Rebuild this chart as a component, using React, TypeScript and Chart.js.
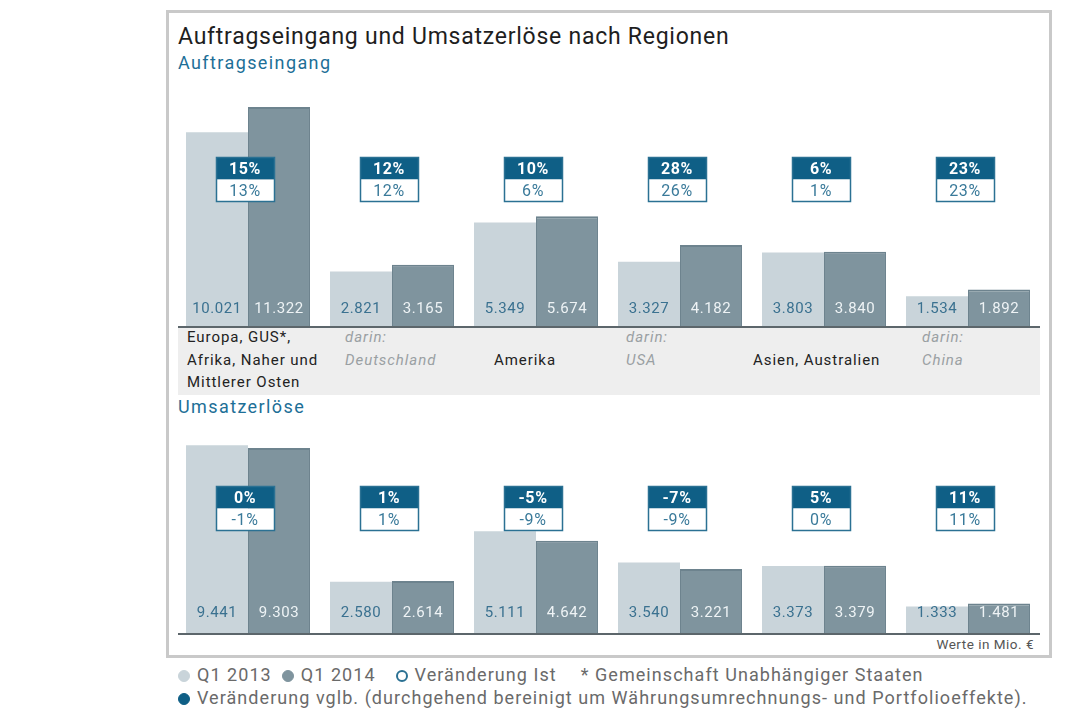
import React, { useEffect, useRef } from "react";
import { Chart, registerables } from "chart.js";

Chart.register(...registerables);

// ---------- data ----------
const categories = [
  "Europa, GUS*, Afrika, Naher und Mittlerer Osten",
  "darin: Deutschland",
  "Amerika",
  "darin: USA",
  "Asien, Australien",
  "darin: China",
];

const seriesNames = ["Q1 2013", "Q1 2014"];

const orders2013 = [10021, 2821, 5349, 3327, 3803, 1534];
const orders2014 = [11322, 3165, 5674, 4182, 3840, 1892];
const ordersVglb = [15, 12, 10, 28, 6, 23];
const ordersIst = [13, 12, 6, 26, 1, 23];

const revenue2013 = [9441, 2580, 5111, 3540, 3373, 1333];
const revenue2014 = [9303, 2614, 4642, 3221, 3379, 1481];
const revenueVglb = [0, 1, -5, -7, 5, 11];
const revenueIst = [-1, 1, -9, -9, 0, 11];

// ---------- style ----------
const LIGHT = "#c9d4da";
const DARK = "#7f949e";
const DARK_EDGE = "#6d838e";
const BOX_DARK = "#0f5f86";
const BOX_EDGE = "#2b7193";
const FONT = "Roboto, 'Liberation Sans', sans-serif";

function fmt(v: number): string {
  return String(v).replace(/\B(?=(\d{3})+(?!\d))/g, ".");
}

const overlay = {
  id: "overlay",
  afterDatasetsDraw(chart: any, _args: any, opts: any) {
    const { ctx, chartArea } = chart;
    ctx.save();
    // baseline
    ctx.strokeStyle = "#5c666b";
    ctx.lineWidth = 2;
    ctx.beginPath();
    ctx.moveTo(chartArea.left + 2, chartArea.bottom + 1);
    ctx.lineTo(chartArea.right, chartArea.bottom + 1);
    ctx.stroke();

    // value labels
    ctx.font = `15px ${FONT}`;
    try { (ctx as any).letterSpacing = "0.6px"; } catch (e) {}
    ctx.textAlign = "center";
    ctx.textBaseline = "middle";
    [0, 1].forEach((di) => {
      const meta = chart.getDatasetMeta(di);
      meta.data.forEach((el: any, j: number) => {
        ctx.fillStyle = di === 0 ? "#3a7190" : "#eef3f5";
        ctx.fillText(
          fmt(chart.data.datasets[di].data[j] as number),
          el.x,
          chartArea.bottom - opts.labelOffset
        );
      });
    });

    // percentage boxes
    const xs = chart.scales.x;
    const w = 58;
    const h = 22;
    (opts.vglb as number[]).forEach((v: number, j: number) => {
      const cx = xs.getPixelForValue(j) - 3;
      const x0 = Math.round(cx - w / 2) + 0.5;
      const y0 = opts.boxTop + 0.5;
      ctx.fillStyle = BOX_DARK;
      ctx.fillRect(x0, y0, w, h);
      ctx.fillStyle = "#ffffff";
      ctx.fillRect(x0, y0 + h, w, h);
      ctx.strokeStyle = BOX_EDGE;
      ctx.lineWidth = 1.5;
      ctx.strokeRect(x0, y0, w, h * 2);
      ctx.font = `bold 16px ${FONT}`;
      ctx.fillStyle = "#ffffff";
      ctx.fillText(`${v}%`, cx, y0 + h / 2 + 1);
      ctx.font = `16px ${FONT}`;
      ctx.fillStyle = "#3a7a9a";
      ctx.fillText(`${opts.ist[j]}%`, cx, y0 + h + h / 2 + 1);
    });
    ctx.restore();
  },
};

interface PanelProps {
  top: number;
  height: number;
  max: number;
  a: number[];
  b: number[];
  vglb: number[];
  ist: number[];
  boxTop: number;
  labelOffset: number;
}

function BarPanel(p: PanelProps) {
  const ref = useRef<HTMLCanvasElement>(null);
  useEffect(() => {
    const chart = new Chart(ref.current!, {
      type: "bar",
      data: {
        labels: categories,
        datasets: [
          {
            label: seriesNames[0],
            data: p.a,
            backgroundColor: LIGHT,
            borderWidth: 0,
            categoryPercentage: 0.861,
            barPercentage: 1,
          },
          {
            label: seriesNames[1],
            data: p.b,
            backgroundColor: DARK,
            borderColor: DARK_EDGE,
            borderWidth: { top: 2, left: 1, right: 1, bottom: 0 },
            borderSkipped: "bottom",
            categoryPercentage: 0.861,
            barPercentage: 1,
          },
        ],
      },
      options: {
        animation: false,
        responsive: false,
        maintainAspectRatio: false,
        layout: { padding: { top: 0, left: 0, right: 0, bottom: 2 } },
        plugins: {
          legend: { display: false },
          tooltip: { enabled: false },
          overlay: {
            vglb: p.vglb,
            ist: p.ist,
            boxTop: p.boxTop,
            labelOffset: p.labelOffset,
          },
        } as any,
        scales: {
          x: { display: false, grid: { display: false } },
          y: { display: false, min: 0, max: p.max, grid: { display: false } },
        },
      },
      plugins: [overlay as any],
    });
    return () => chart.destroy();
  }, []);
  return (
    <canvas
      ref={ref}
      width={864}
      height={p.height}
      style={{ position: "absolute", left: 176, top: p.top, width: 864, height: p.height }}
    />
  );
}

const abs = (s: React.CSSProperties): React.CSSProperties => ({ position: "absolute", whiteSpace: "nowrap", ...s });

function Dot({ color, hollow }: { color: string; hollow?: boolean }) {
  return (
    <span
      style={{
        display: "inline-block",
        width: 12,
        height: 12,
        borderRadius: "50%",
        background: hollow ? "#fff" : color,
        border: hollow ? `2px solid ${color}` : `1px solid ${color}`,
        boxSizing: "border-box",
        marginRight: 7,
        verticalAlign: "-1px",
      }}
    />
  );
}

export default function App() {
  const catText: React.CSSProperties = { fontSize: 15, lineHeight: "22.5px", color: "#222", letterSpacing: "0.95px" };
  const subText: React.CSSProperties = { fontSize: 15, lineHeight: "22.5px", color: "#9aa0a3", fontStyle: "italic", letterSpacing: "0.95px" };
  return (
    <div
      style={{
        position: "fixed",
        left: 0,
        top: 0,
        width: 1080,
        height: 720,
        background: "#fff",
        fontFamily: FONT,
        overflow: "hidden",
      }}
    >
      <div
        style={abs({
          left: 166,
          top: 10,
          width: 886,
          height: 648,
          border: "3px solid #c9c9c9",
          boxSizing: "border-box",
        })}
      />
      <div style={abs({ left: 178, top: 23, fontSize: 23, color: "#1e1e1e", letterSpacing: "0.75px" })}>
        Auftragseingang und Umsatzerlöse nach Regionen
      </div>
      <div style={abs({ left: 178, top: 52, fontSize: 18, color: "#1d6f97", letterSpacing: "1.4px" })}>Auftragseingang</div>

      <div style={abs({ left: 178, top: 328, width: 862, height: 67, background: "#eeeeee" })} />
      <div style={abs({ left: 187, top: 326, ...catText })}>
        Europa, GUS*,
        <br />
        Afrika, Naher und
        <br />
        Mittlerer Osten
      </div>
      <div style={abs({ left: 345, top: 326, ...subText })}>
        darin:
        <br />
        Deutschland
      </div>
      <div style={abs({ left: 494, top: 349, ...catText })}>Amerika</div>
      <div style={abs({ left: 626, top: 326, ...subText })}>
        darin:
        <br />
        USA
      </div>
      <div style={abs({ left: 753, top: 349, ...catText })}>Asien, Australien</div>
      <div style={abs({ left: 922, top: 326, ...subText })}>
        darin:
        <br />
        China
      </div>

      <div style={abs({ left: 178, top: 396, fontSize: 18, color: "#1d6f97", letterSpacing: "1.4px" })}>Umsatzerlöse</div>
      <div style={abs({ right: 1080 - 1034, top: 636, fontSize: 13.5, color: "#555", letterSpacing: "0.5px" })}>
        Werte in Mio. €
      </div>

      <BarPanel
        top={90}
        height={238}
        max={12200}
        a={orders2013}
        b={orders2014}
        vglb={ordersVglb}
        ist={ordersIst}
        boxTop={67}
        labelOffset={17}
      />
      <BarPanel
        top={440}
        height={195}
        max={9700}
        a={revenue2013}
        b={revenue2014}
        vglb={revenueVglb}
        ist={revenueIst}
        boxTop={46}
        labelOffset={20}
      />

      <div style={abs({ left: 178, top: 663, fontSize: 18, color: "#6a6a6a", lineHeight: "23px", letterSpacing: "1.05px" })}>
        <Dot color={LIGHT} />
        {seriesNames[0]}
        <span style={{ display: "inline-block", width: 10 }} />
        <Dot color={DARK} />
        {seriesNames[1]}
        <span style={{ display: "inline-block", width: 20 }} />
        <Dot color={BOX_EDGE} hollow />
        Veränderung Ist
        <span style={{ display: "inline-block", width: 24 }} />* Gemeinschaft Unabhängiger Staaten
        <br />
        <Dot color={BOX_DARK} />
        Veränderung vglb. (durchgehend bereinigt um Währungsumrechnungs- und Portfolioeffekte).
      </div>
    </div>
  );
}
